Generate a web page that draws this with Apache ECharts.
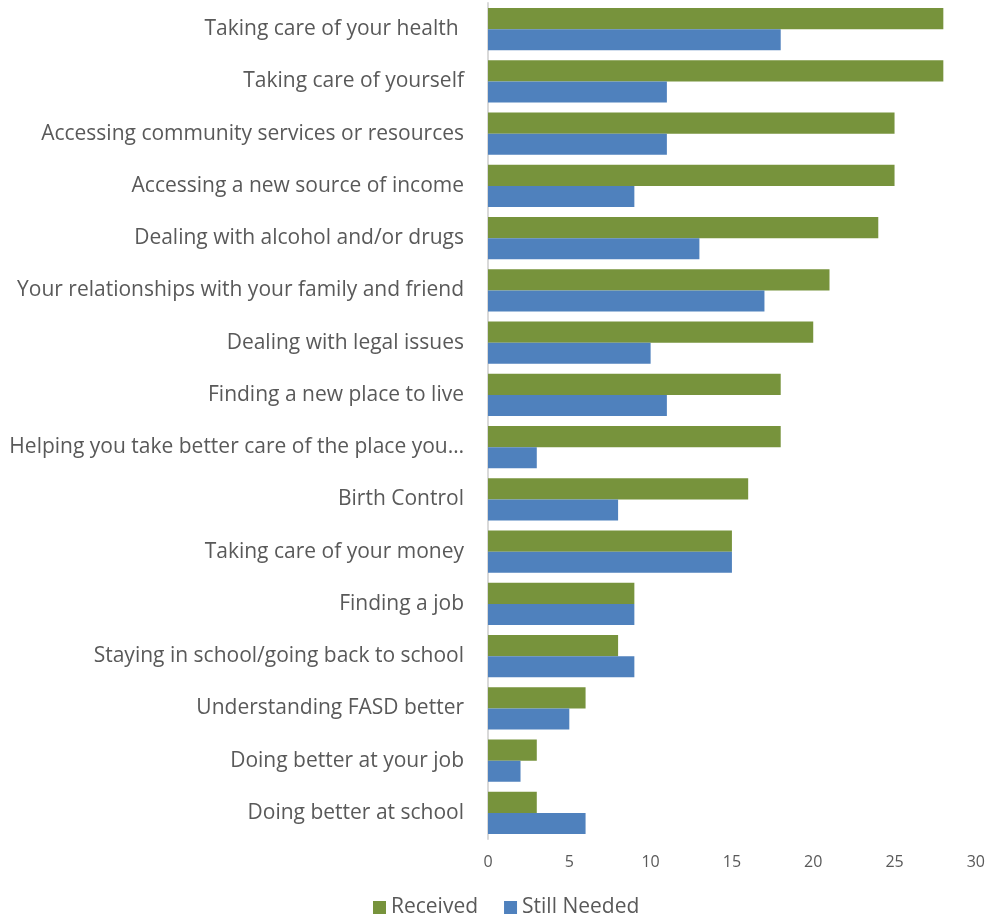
<!DOCTYPE html>
<html>
<head>
<meta charset="utf-8">
<script src="https://cdn.jsdelivr.net/npm/echarts@6/dist/echarts.min.js"></script>
<style>
  html, body { margin: 0; padding: 0; background: #fff; }
  #chart { width: 988px; height: 917px; }
</style>
</head>
<body>
<div id="chart"></div>
<script>
// Support areas, listed top to bottom
const categories = [
  'Taking care of your health ',
  'Taking care of yourself',
  'Accessing community services or resources',
  'Accessing a new source of income',
  'Dealing with alcohol and/or drugs',
  'Your relationships with your family and friend',
  'Dealing with legal issues',
  'Finding a new place to live',
  'Helping you take better care of the place you…',
  'Birth Control',
  'Taking care of your money',
  'Finding a job',
  'Staying in school/going back to school',
  'Understanding FASD better',
  'Doing better at your job',
  'Doing better at school'
];
const received    = [28, 28, 25, 25, 24, 21, 20, 18, 18, 16, 15, 9, 8, 6, 3, 3];
const stillNeeded = [18, 11, 11, 9, 13, 17, 10, 11, 3, 8, 15, 9, 9, 5, 2, 6];
const xTicks = { min: 0, max: 30, interval: 5 };

const textColor = '#595959';
const fontFamily = '"Open Sans", sans-serif';

const chart = echarts.init(document.getElementById('chart'));
chart.setOption({
  animation: false,
  textStyle: { fontFamily: fontFamily },
  legend: {
    top: 892,
    left: 368,
    itemWidth: 13,
    itemHeight: 13,
    itemGap: 26,
    icon: 'rect',
    textStyle: { color: textColor, fontSize: 21, fontFamily: fontFamily },
    data: ['Received', 'Still Needed']
  },
  grid: { left: 488, right: 12, top: 3, bottom: 78, containLabel: false },
  xAxis: {
    type: 'value',
    min: xTicks.min,
    max: xTicks.max,
    interval: xTicks.interval,
    splitLine: { show: false },
    axisLine: { show: false },
    axisTick: { show: false },
    axisLabel: { color: textColor, fontSize: 16, margin: 15, fontFamily: fontFamily }
  },
  yAxis: {
    type: 'category',
    inverse: true,
    data: categories,
    axisLine: { show: true, lineStyle: { color: '#d9d9d9', width: 2 } },
    axisTick: { show: false },
    axisLabel: { color: textColor, fontSize: 21, margin: 24, fontFamily: fontFamily, padding: [0, 0, 4, 0] }
  },
  series: [
    {
      name: 'Received',
      type: 'bar',
      data: received,
      itemStyle: { color: '#77933C' },
      barGap: '0%',
      barCategoryGap: '19.5%'
    },
    {
      name: 'Still Needed',
      type: 'bar',
      data: stillNeeded,
      itemStyle: { color: '#4F81BD' },
      barGap: '0%',
      barCategoryGap: '19.5%'
    }
  ]
});
</script>
</body>
</html>
